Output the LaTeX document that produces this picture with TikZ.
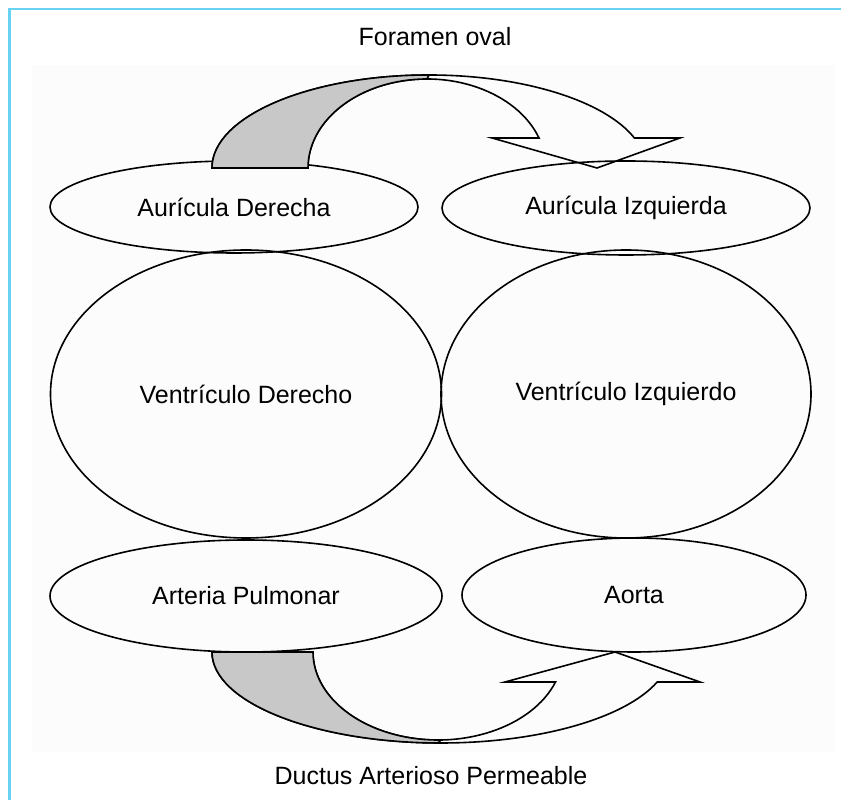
\documentclass[tikz,border=0pt]{standalone}
\usepackage{fontspec}
\setmainfont{Liberation Sans}
\usepackage{tikz}
\usetikzlibrary{shapes.geometric}

\definecolor{framecol}{RGB}{104,210,243}
\definecolor{shadecol}{RGB}{200,200,200}

\begin{document}
\begin{tikzpicture}[x=1pt,y=1pt,
    chamber/.style={ellipse,draw,line width=1.6pt,inner sep=0pt,
      font=\fontsize{25}{30}\selectfont},
    caption/.style={font=\fontsize{25}{30}\selectfont},
    flow/.style={line width=1.6pt,line join=miter}]

  % page, faint panel and blue frame
  \useasboundingbox (0,0) rectangle (841,800);
  \fill[black!1] (32,48) rectangle (835,735);
  \draw[framecol,line width=2.4pt] (841,791) -- (9.5,791) -- (9.5,0);

  % atria
  \node[chamber,minimum width=368pt,minimum height=92pt] (ad) at (234,593) {Aurícula Derecha};
  \node[chamber,minimum width=368pt,minimum height=94pt] (ai) at (626,592) {Aurícula Izquierda};

  % ventricles
  \node[chamber,minimum width=391pt,minimum height=288pt] (vd) at (246,406) {Ventrículo Derecho};
  \node[chamber,minimum width=370pt,minimum height=288pt] (vi) at (626,406) {Ventrículo Izquierdo};

  % great vessels
  \node[chamber,minimum width=392pt,minimum height=112pt] (ap) at (246,204) {Arteria Pulmonar};
  \node[chamber,minimum width=344pt,minimum height=114pt] (ao) at (634,205) {Aorta};

  % foramen oval: curved arrow from right to left atrium
  \draw[flow] (212,632) arc[start angle=180,end angle=18.8,x radius=217pt,y radius=93pt]
    -- (680,662) -- (597,632) -- (492,662) -- (539,662)
    arc[start angle=19.7,end angle=180,x radius=119pt,y radius=89pt] -- cycle;
  \draw[flow,fill=shadecol] (212,632) arc[start angle=180,end angle=90,x radius=217pt,y radius=93pt]
    -- (427,721) arc[start angle=90,end angle=180,x radius=119pt,y radius=89pt] -- cycle;

  % ductus arteriosus: curved arrow from pulmonary artery to aorta
  \draw[flow] (212,148) arc[start angle=180,end angle=340.75,x radius=229pt,y radius=91pt]
    -- (700,118) -- (615,148) -- (505,118) -- (555.5,118)
    arc[start angle=340.07,end angle=180,x radius=125pt,y radius=88pt] -- cycle;
  \draw[flow,fill=shadecol] (212,148) arc[start angle=180,end angle=270,x radius=229pt,y radius=91pt]
    -- (438,60) arc[start angle=270,end angle=180,x radius=125pt,y radius=88pt] -- cycle;

  % captions
  \node[caption] (fo) at (435,763) {Foramen oval};
  \node[caption] (da) at (431,24) {Ductus Arterioso Permeable};

\end{tikzpicture}
\end{document}
